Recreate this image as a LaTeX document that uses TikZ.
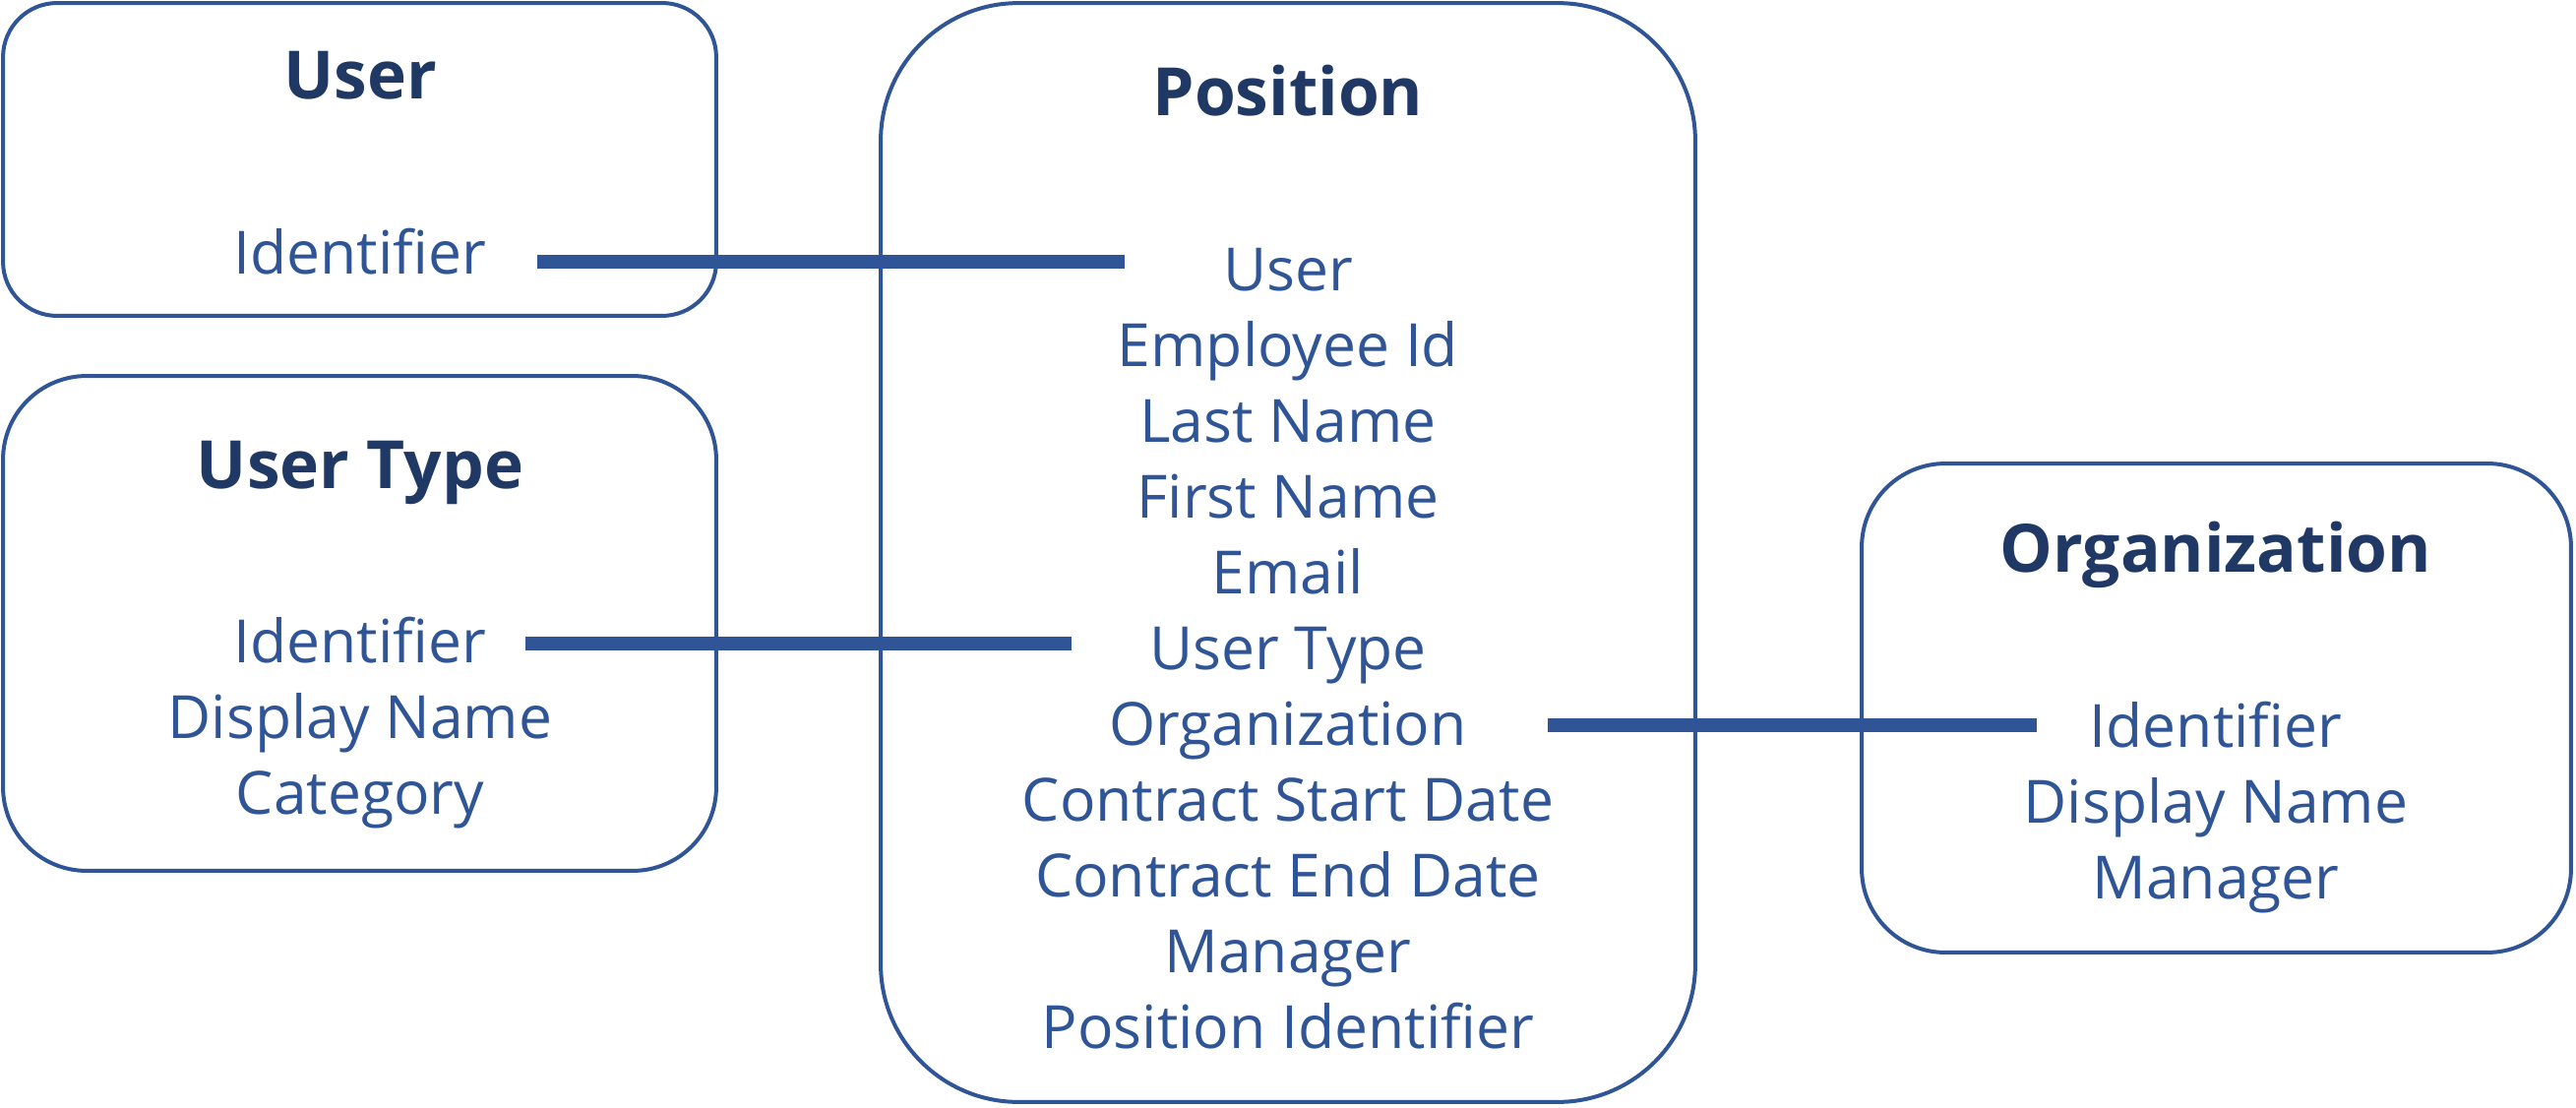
\documentclass[tikz,border=0pt]{standalone}
\usepackage{fontspec}
\setmainfont{Open Sans}
\definecolor{ebl}{HTML}{2F5597}
\definecolor{etitle}{HTML}{1F3864}
\begin{document}
\begin{tikzpicture}[x=0.02cm,y=-0.02cm,
  entbox/.style={draw=ebl,line width=0.08cm,fill=none,inner sep=0pt},
  ttl/.style={anchor=base,inner sep=0pt,text=etitle,font=\fontsize{38.5pt}{44pt}\selectfont\bfseries},
  fld/.style={anchor=base,inner sep=0pt,text=ebl,font=\fontsize{34.5pt}{44pt}\selectfont},
  conn/.style={draw=ebl,line width=0.28cm}]
\useasboundingbox (0,0) rectangle (2618,1126);
% boxes
\node[entbox,rounded corners=1.1cm,minimum width=14.5cm,minimum height=6.36cm] (user) at (365.5,162) {};
\node[entbox,rounded corners=1.7cm,minimum width=14.5cm,minimum height=10.06cm] (usertype) at (365.5,633.5) {};
\node[entbox,rounded corners=2.8cm,minimum width=16.56cm,minimum height=22.34cm] (position) at (1309,561.5) {};
\node[entbox,rounded corners=1.7cm,minimum width=14.42cm,minimum height=9.94cm] (org) at (2252.5,719.5) {};
% titles
\node[ttl] (tUser) at (366,100) {User};
\node[ttl] (tUserType) at (366,496) {User Type};
\node[ttl] (tPosition) at (1309,117) {Position};
\node[ttl] (tOrg) at (2252,581) {Organization};
% User fields
\node[fld] (uId) at (366,278) {Identifier};
% User Type fields
\node[fld] (utId) at (366,673) {Identifier};
\node[fld] (utName) at (366,750) {Display Name};
\node[fld] (utCat) at (366,827) {Category};
% Position fields
\node[fld] (pUser) at (1309,295) {User};
\node[fld] (pEmp) at (1309,372) {Employee Id};
\node[fld] (pLast) at (1309,449) {Last Name};
\node[fld] (pFirst) at (1309,526) {First Name};
\node[fld] (pEmail) at (1309,603) {Email};
\node[fld] (pUType) at (1309,680) {User Type};
\node[fld] (pOrg) at (1309,757) {Organization};
\node[fld] (pCStart) at (1309,834) {Contract Start Date};
\node[fld] (pCEnd) at (1309,911) {Contract End Date};
\node[fld] (pMgr) at (1309,988) {Manager};
\node[fld] (pPosId) at (1309,1065) {Position Identifier};
% Organization fields
\node[fld] (oId) at (2252,759) {Identifier};
\node[fld] (oName) at (2252,836) {Display Name};
\node[fld] (oMgr) at (2252,913) {Manager};
% connector ends
\coordinate (c1a) at (546,266);
\coordinate (c1b) at (1143,266);
\coordinate (c2a) at (534,654);
\coordinate (c2b) at (1089,654);
\coordinate (c3a) at (1573,737);
\coordinate (c3b) at (2070,737);
\draw[conn] (c1a) -- (c1b);
\draw[conn] (c2a) -- (c2b);
\draw[conn] (c3a) -- (c3b);
\end{tikzpicture}
\end{document}
